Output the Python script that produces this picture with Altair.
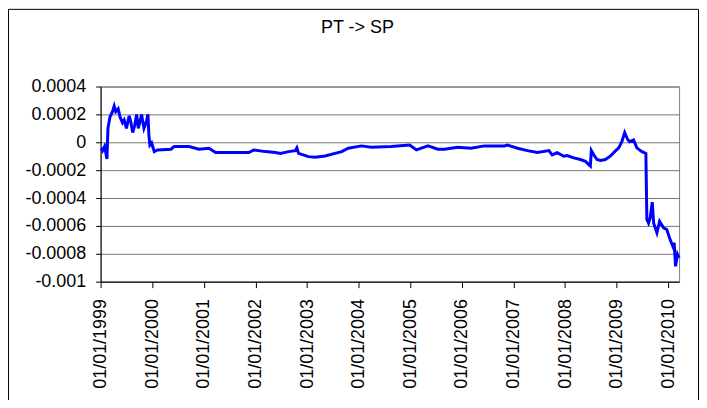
import altair as alt
import pandas as pd

title_text = "PT -> SP"

dates = [
    "1999-01-05", "1999-01-15", "1999-01-29", "1999-02-08", "1999-02-15", "1999-02-22",
    "1999-03-08", "1999-03-26", "1999-04-07", "1999-04-18", "1999-05-05", "1999-05-19",
    "1999-06-05", "1999-06-17", "1999-07-03", "1999-07-22", "1999-08-02", "1999-08-16",
    "1999-08-30", "1999-09-13", "1999-09-25", "1999-10-07", "1999-10-18", "1999-11-04",
    "1999-11-22", "1999-12-02", "1999-12-09", "1999-12-16", "1999-12-28", "2000-01-16",
    "2000-02-08", "2000-05-13", "2000-06-05", "2000-09-18", "2000-11-27", "2001-02-06",
    "2001-03-25", "2001-11-15", "2001-12-20", "2002-03-13", "2002-05-22", "2002-06-26",
    "2002-08-23", "2002-10-10", "2002-10-21", "2002-11-02", "2003-01-11", "2003-02-27",
    "2003-05-09", "2003-07-18", "2003-09-03", "2003-10-20", "2004-01-21", "2004-03-30",
    "2004-08-18", "2004-12-28", "2005-02-13", "2005-05-06", "2005-07-15", "2005-08-31",
    "2005-12-02", "2006-03-07", "2006-06-09", "2006-10-28", "2006-11-20", "2007-01-30",
    "2007-04-10", "2007-06-19", "2007-09-09", "2007-10-02", "2007-11-06", "2007-12-23",
    "2008-01-16", "2008-03-03", "2008-04-19", "2008-05-24", "2008-06-17", "2008-06-28",
    "2008-07-05", "2008-07-22", "2008-08-14", "2008-09-07", "2008-10-12", "2008-11-16",
    "2008-12-21", "2009-01-15", "2009-02-07", "2009-02-26", "2009-03-19", "2009-04-02",
    "2009-04-30", "2009-05-23", "2009-06-28", "2009-07-26", "2009-08-02", "2009-08-14",
    "2009-08-26", "2009-09-09", "2009-09-19", "2009-10-12", "2009-10-31", "2009-11-28",
    "2009-12-21", "2010-01-14", "2010-02-02", "2010-02-11", "2010-02-21", "2010-03-07",
    "2010-03-18",
]

values = [
    -0.00004, -0.00006, -0.00003, -0.00008, -0.00012, 0.00010,
    0.00018, 0.00022, 0.00026, 0.00022, 0.00024, 0.00018,
    0.00014, 0.00016, 0.00010, 0.00019, 0.00015, 0.00007,
    0.00012, 0.00020, 0.00010, 0.00015, 0.00020, 0.00010,
    0.00015, 0.00020, 0.00005, -0.00002, -0.000005, -0.000067,
    -0.000055, -0.00005, -0.00003, -0.00003, -0.00005, -0.000043,
    -0.000074, -0.000074, -0.000055, -0.000067, -0.000074, -0.00008,
    -0.000067, -0.00006, -0.00004, -0.00008, -0.000103, -0.000107,
    -0.000098, -0.00008, -0.000067, -0.000043, -0.000026, -0.000036,
    -0.000031, -0.00002, -0.000055, -0.000026, -0.00005, -0.00005,
    -0.000036, -0.000043, -0.000026, -0.000026, -0.00002, -0.000043,
    -0.00006, -0.000074, -0.00006, -0.00009, -0.000074, -0.0001,
    -0.000095, -0.000112, -0.000124, -0.000136, -0.00016, -0.00017,
    -0.00006, -0.00009, -0.000124, -0.00013, -0.000124, -0.0001,
    -0.000064, -0.00004, 0.000007, 0.00007, 0.00002, 0.000004,
    0.000016, -0.00004, -0.000067, -0.00008, -0.000555, -0.00058,
    -0.00054, -0.00043, -0.00058, -0.00065, -0.000567, -0.000614,
    -0.000626, -0.0007, -0.000746, -0.00072, -0.00089, -0.000805,
    -0.00083,
]

tick_years = list(range(1999, 2011))
y_ticks = [0.0004, 0.0002, 0, -0.0002, -0.0004, -0.0006, -0.0008, -0.001]

df = pd.DataFrame({"date": dates, "value": values})

FONT = "Liberation Sans"
FS = 18

line = alt.Chart(df).mark_line(color="#0000FF", strokeWidth=3).encode(
    x=alt.X(
        "date:T",
        title=None,
        scale=alt.Scale(
            type="utc",
            domain=[
                alt.DateTime(year=1999, month=1, date=1, utc=True),
                alt.DateTime(year=2010, month=3, date=18, utc=True),
            ],
        ),
        axis=alt.Axis(
            values=[alt.DateTime(year=y, month=1, date=1, utc=True) for y in tick_years],
            labelExpr="utcFormat(datum.value, '%d/%m/%Y')",
            labelAngle=270,
            labelFlush=False,
            labelOverlap=False,
            labelFont=FONT,
            labelFontSize=FS,
            labelColor="black",
            labelLimit=300,
            tickSize=6,
            labelPadding=11,
            grid=False,
            domainColor="black",
            tickColor="black",
        ),
    ),
    y=alt.Y(
        "value:Q",
        title=None,
        scale=alt.Scale(domain=[-0.001, 0.0004], nice=False, zero=False),
        axis=alt.Axis(
            values=y_ticks,
            labelExpr="replace(format(datum.value, '~g'), '\u2212', '-')",
            labelFlush=False,
            labelOverlap=False,
            labelFont=FONT,
            labelFontSize=FS,
            labelColor="black",
            tickSize=5,
            labelPadding=10,
            grid=True,
            gridColor="#777777",
            gridWidth=1,
            domainColor="black",
            tickColor="black",
        ),
    ),
)

one = pd.DataFrame({"k": [0]})

border = alt.Chart(one).mark_rect(
    fillOpacity=0, stroke="black", strokeWidth=1
).encode(
    x=alt.value(-92.5), x2=alt.value(600.5), y=alt.value(-77.5), y2=alt.value(400)
)

title = alt.Chart(one).mark_text(
    text=title_text, font=FONT, fontSize=FS, color="black",
    align="center", baseline="middle"
).encode(x=alt.value(258), y=alt.value(-59))

chart = alt.layer(border, title, line).properties(
    width=581,
    height=196,
    padding={"left": 93, "top": 78, "right": 20, "bottom": 118},
    autosize=alt.AutoSizeParams(type="none"),
).configure_view(
    stroke="#808080", strokeWidth=1
)

chart.save("out.html", embed_options={"renderer": "svg", "actions": False})
